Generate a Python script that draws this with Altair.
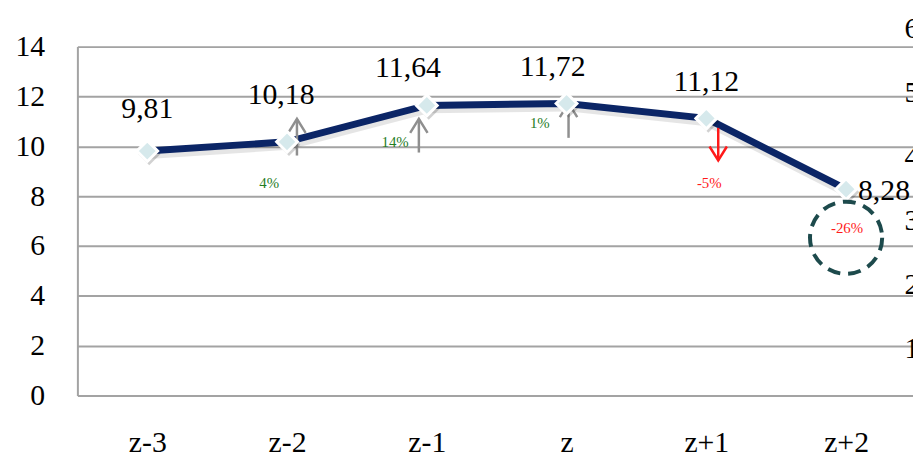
import altair as alt
import pandas as pd

periods = ["z-3", "z-2", "z-1", "z", "z+1", "z+2"]
values = [9.81, 10.18, 11.64, 11.72, 11.12, 8.28]
value_labels = ["9,81", "10,18", "11,64", "11,72", "11,12", "8,28"]
changes = ["", "4%", "14%", "1%", "-5%", "-26%"]
arrow_low = [None, 9.63, 9.75, 10.34, 9.43, None]
arrow_high = [None, 11.10, 11.10, 11.73, 10.74, None]
right_ticks = [1, 2, 3, 4, 5, 6]

FONT = "Times New Roman"
LINE = "#0b2566"
GRID = "#a3a3a3"
BIG = 30

df = pd.DataFrame({
    "period": periods,
    "value": values,
    "label": value_labels,
    "change": changes,
    "low": arrow_low,
    "high": arrow_high,
})

x_scale = alt.Scale(type="point", padding=0.5, range=[0, 846])


def X(axis=False):
    if axis:
        return alt.X("period:N", sort=periods, scale=x_scale,
                     axis=alt.Axis(labelAngle=0, labelAlign="center", labelBaseline="top",
                                   title=None, domain=False, ticks=False, grid=False,
                                   labelPadding=32, labelFontSize=BIG, labelFont=FONT,
                                   labelColor="black"))
    return alt.X("period:N", sort=periods, scale=x_scale)


y_scale = alt.Scale(domain=[0, 14])
y_axis_enc = alt.Y(
    "value:Q",
    scale=y_scale,
    axis=alt.Axis(values=list(range(0, 15, 2)), title=None, grid=True, gridColor=GRID,
                  gridWidth=2, domain=True, domainColor=GRID, domainWidth=2, ticks=False,
                  labelPadding=33, labelFontSize=BIG, labelFont=FONT, labelColor="black"),
)


def Y(field="value"):
    return alt.Y(f"{field}:Q", scale=y_scale)


base = alt.Chart(df)

shadow_line = base.mark_line(color="#000000", opacity=0.1, strokeWidth=8, yOffset=4, xOffset=1).encode(
    x=X(), y=Y())
line = base.mark_line(color=LINE, strokeWidth=7).encode(x=X(True), y=y_axis_enc)

layers = [shadow_line, line]

# arrows
arrow_dx = {"z-2": 10, "z-1": -8, "z": 2, "z+1": 12}
up_head = "M-0.62,1L0,0L0.62,1"
down_head = "M-0.62,-1L0,0L0.62,-1"
for p, dx in arrow_dx.items():
    sub = base.transform_filter(alt.datum.period == p)
    i = periods.index(p)
    up = not changes[i].startswith("-")
    col = "#8f8f8f" if up else "#ff1a1a"
    layers.append(sub.mark_rule(color=col, strokeWidth=2.5, xOffset=dx).encode(
        x=X(), y=Y("low"), y2="high:Q"))
    layers.append(sub.mark_point(shape=up_head if up else down_head, filled=False, stroke=col,
                                 strokeWidth=2.5, size=800, xOffset=dx, opacity=1).encode(
        x=X(), y=Y("high" if up else "low")))

# markers
layers.append(base.mark_point(shape="diamond", filled=True, color="#000000", opacity=0.18,
                              size=520, xOffset=2, yOffset=3).encode(x=X(), y=Y()))
layers.append(base.mark_point(shape="diamond", filled=True, fill="#d6e9ec", stroke="white",
                              strokeWidth=3, size=441, opacity=1).encode(x=X(), y=Y()))

# value labels
label_off = {"z-3": (0, -42), "z-2": (-6, -47), "z-1": (-19, -38), "z": (-14, -37),
             "z+1": (0, -37)}
for p, (dx, dy) in label_off.items():
    layers.append(base.transform_filter(alt.datum.period == p).mark_text(
        font=FONT, fontSize=BIG, color="black", dx=dx, dy=dy, baseline="middle").encode(
        x=X(), y=Y(), text="label:N"))
layers.append(base.transform_filter(alt.datum.period == "z+2").mark_text(
    font=FONT, fontSize=BIG, color="black", dx=12, dy=2, align="left", baseline="middle").encode(
    x=X(), y=Y(), text="label:N"))

# change labels
change_off = {"z-2": (-18, 42), "z-1": (-32, 37), "z": (-27, 20), "z+1": (3, 65), "z+2": (1, 39)}
for p, (dx, dy) in change_off.items():
    i = periods.index(p)
    col = "#1f7d1f" if not changes[i].startswith("-") else "#ff1a1a"
    layers.append(base.transform_filter(alt.datum.period == p).mark_text(
        font=FONT, fontSize=15, color=col, dx=dx, dy=dy, baseline="middle").encode(
        x=X(), y=Y(), text="change:N"))

# dashed circle around the last change
layers.append(base.transform_filter(alt.datum.period == "z+2").mark_point(
    shape="circle", filled=False, stroke="#1d4a4c", strokeWidth=4, strokeDash=[13, 8],
    size=5300, yOffset=49, opacity=1).encode(x=X(), y=Y()))

main = alt.layer(*layers)

rdf = pd.DataFrame({"r": right_ticks})
right = alt.Chart(rdf).mark_point(opacity=0).encode(
    y=alt.Y("r:Q", scale=alt.Scale(domain=[0, 6], range=[369.6, -18]),
            axis=alt.Axis(orient="right", values=right_ticks, title=None, grid=False,
                          domain=False, ticks=False, offset=-11, labelPadding=2,
                          labelFontSize=BIG, labelFont=FONT, labelColor="black",
                          labelAlign="left")))

chart = alt.layer(main, right).resolve_scale(y="independent").properties(
    width=843, height=352,
    autosize=alt.AutoSizeParams(type="none"),
    padding={"left": 70, "top": 37, "right": 0, "bottom": 56},
).configure_view(stroke=None).configure(background="white")

chart.save("out.html", embed_options={"renderer": "svg", "actions": False})
